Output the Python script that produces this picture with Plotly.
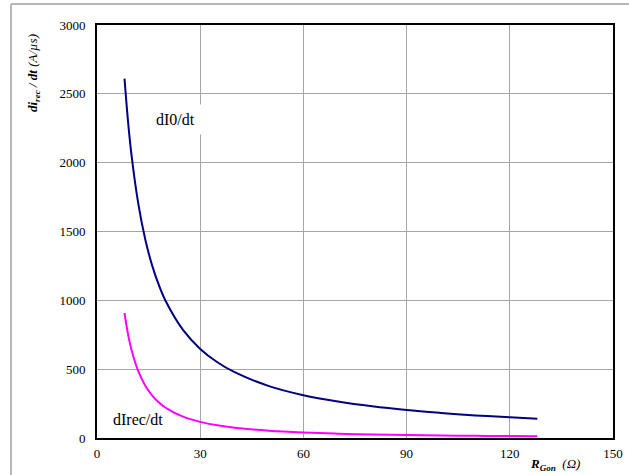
import plotly.graph_objects as go

# Data
r_gon = [8, 9, 10, 12, 14, 16, 18, 20, 25, 30, 35, 40, 50, 60, 70, 80, 90, 100, 110, 120, 128]
di0_dt = [2610, 2305, 2062, 1702, 1446, 1256, 1110, 993, 785, 647, 550, 478, 377, 311, 265, 230, 203, 182, 164, 150, 140]
direc_dt = [908, 756, 643, 485, 381, 310, 258, 219, 155, 117, 92, 75, 53, 40, 31.5, 25.6, 21.3, 18.1, 15.6, 13.7, 12.4]

x_ticks = [0, 30, 60, 90, 120, 150]
y_ticks = [0, 500, 1000, 1500, 2000, 2500, 3000]

W, H = 629, 475
L, R, T, B = 97, 16, 25, 37
pw = W - L - R
ph = H - T - B

def px(xp):
    return (xp - L) / pw

def py(yp):
    return (H - B - yp) / ph

FONT = "Liberation Serif"
tickfont = dict(family=FONT, size=13, color="black")

fig = go.Figure()
fig.add_trace(go.Scatter(x=r_gon, y=di0_dt, mode="lines", line=dict(color="#000080", width=2, shape="spline"),
                         name="dI0/dt", showlegend=False))
fig.add_trace(go.Scatter(x=r_gon, y=direc_dt, mode="lines", line=dict(color="#FF00FF", width=2, shape="spline"),
                         name="dIrec/dt", showlegend=False))

ann = dict(xref="paper", yref="paper", showarrow=False, xanchor="center", yanchor="middle")

fig.update_layout(
    width=W, height=H,
    margin=dict(l=L, r=R, t=T, b=B, autoexpand=False),
    paper_bgcolor="white", plot_bgcolor="white",
    font=dict(family=FONT, size=13, color="black"),
    xaxis=dict(range=[0, 150], tickvals=x_ticks, ticktext=[str(v) for v in x_ticks],
               tickfont=tickfont, automargin=False,
               showgrid=True, gridcolor="#a6a6a6", gridwidth=1, zeroline=False,
               showline=True, linecolor="black", linewidth=2, mirror=True,
               ticks="", ticklabelstandoff=2, fixedrange=True),
    yaxis=dict(range=[0, 3000], tickvals=y_ticks, ticktext=[str(v) for v in y_ticks],
               tickfont=tickfont, automargin=False,
               showgrid=True, gridcolor="#a6a6a6", gridwidth=1, zeroline=False,
               showline=True, linecolor="black", linewidth=2, mirror=True,
               ticks="", ticklabelstandoff=7, fixedrange=True),
    annotations=[
        dict(ann, x=px(175), y=py(120), text="dI0/dt",
             font=dict(family=FONT, size=16), bgcolor="white", borderpad=6),
        dict(ann, x=px(138), y=py(419), text="dIrec/dt",
             font=dict(family=FONT, size=16), bgcolor="white", borderpad=2),
        dict(ann, x=px(33), y=py(73), textangle=-90,
             text="<b><i>di<sub>rec</sub> / dt</i></b> <i>(A/µs)</i>",
             font=dict(family=FONT, size=13)),
        dict(ann, x=px(555), y=py(464),
             text="<b><i>R<sub>Gon</sub></i></b>  <i>(Ω)</i>",
             font=dict(family=FONT, size=13)),
    ],
    shapes=[
        dict(type="line", xref="paper", yref="paper", x0=px(11), x1=px(629), y0=py(4), y1=py(4),
             line=dict(color="#a0a0a0", width=1.5)),
        dict(type="line", xref="paper", yref="paper", x0=px(11), x1=px(11), y0=py(4), y1=py(475),
             line=dict(color="#a0a0a0", width=1.5)),
    ],
)

fig.write_html("out.html")
